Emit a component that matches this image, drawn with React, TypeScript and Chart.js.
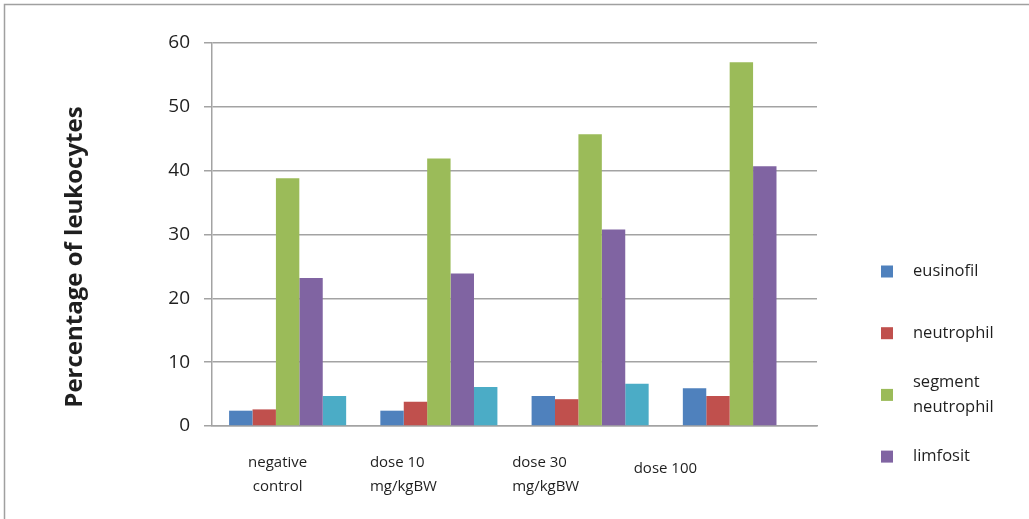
import React, { useEffect, useRef } from "react";
import { Chart, registerables } from "chart.js";

Chart.register(...registerables);

// Treatment groups (x categories), each split over lines as printed
const categories: string[][] = [
  ["negative", "control"],
  ["dose 10", "mg/kgBW"],
  ["dose 30", "mg/kgBW"],
  ["dose 100"],
];

// Leukocyte differential counts (%) per group
const eusinofil = [2.4, 2.4, 4.7, 5.9];
const neutrophil = [2.6, 3.8, 4.2, 4.7];
const segmentNeutrophil = [38.8, 41.9, 45.7, 57.0];
const limfosit = [23.2, 23.9, 30.8, 40.7];
const monosit = [4.7, 6.1, 6.6, null];

const yTicks = [0, 10, 20, 30, 40, 50, 60];
const yTitle = "Percentage of leukocytes";

const FONT = "'Open Sans', 'DejaVu Sans', sans-serif";
const TEXT = "#1f1f1f";
const GRID = "#a3a3a3";

const series = [
  { label: ["eusinofil"], data: eusinofil, color: "#4F81BD", inLegend: true },
  { label: ["neutrophil"], data: neutrophil, color: "#C0504D", inLegend: true },
  { label: ["segment", "neutrophil"], data: segmentNeutrophil, color: "#9BBB59", inLegend: true },
  { label: ["limfosit"], data: limfosit, color: "#8064A2", inLegend: true },
  { label: ["monosit"], data: monosit, color: "#4BACC6", inLegend: false },
];

// Placement of each category caption relative to its category centre
const captionStyle: { dx: number; align: CanvasTextAlign }[] = [
  { dx: -10, align: "center" },
  { dx: -69, align: "left" },
  { dx: -78, align: "left" },
  { dx: -76, align: "center" },
];

const decorations = {
  id: "decorations",
  afterDraw(chart: Chart) {
    const ctx = chart.ctx;
    ctx.save();

    // outer frame (top and left edges)
    ctx.strokeStyle = "#a0a0a0";
    ctx.lineWidth = 1.5;
    ctx.beginPath();
    ctx.moveTo(4.5, chart.height);
    ctx.lineTo(4.5, 4.5);
    ctx.lineTo(chart.width, 4.5);
    ctx.stroke();

    // y-axis title
    ctx.fillStyle = TEXT;
    ctx.font = `700 24px ${FONT}`;
    ctx.textAlign = "center";
    ctx.textBaseline = "middle";
    ctx.translate(75, 257);
    ctx.rotate(-Math.PI / 2);
    ctx.fillText(yTitle, 0, 0);
    ctx.setTransform(1, 0, 0, 1, 0, 0);

    // category captions
    const xScale = chart.scales.x;
    ctx.font = `15px ${FONT}`;
    const lineH = 24;
    categories.forEach((lines, i) => {
      const cx = xScale.getPixelForValue(i);
      const st = captionStyle[i];
      ctx.textAlign = st.align;
      const center = 469 + (lines.length - 1) * 6;
      const top = center - ((lines.length - 1) * lineH) / 2;
      lines.forEach((t, j) => ctx.fillText(t, cx + st.dx, top + j * lineH));
    });

    // legend
    ctx.textAlign = "left";
    ctx.font = `16.5px ${FONT}`;
    let y = 271.5;
    series
      .filter((s) => s.inLegend)
      .forEach((s) => {
        ctx.fillStyle = s.color;
        ctx.fillRect(881, y - 6, 12, 12);
        ctx.fillStyle = TEXT;
        const n = s.label.length;
        s.label.forEach((t, j) => ctx.fillText(t, 913, y + (j - (n - 1) / 2) * 24.5));
        y += 61.7;
      });

    ctx.restore();
  },
};

export default function App() {
  const ref = useRef<HTMLCanvasElement>(null);

  useEffect(() => {
    document.body.style.margin = "0";
    document.body.style.overflow = "hidden";
    const canvas = ref.current;
    if (!canvas) return;
    const chart = new Chart(canvas, {
      type: "bar",
      data: {
        labels: categories.map((c) => c.join(" ")),
        datasets: series.map((s) => ({
          label: s.label.join(" "),
          data: s.data as (number | null)[],
          backgroundColor: s.color,
          borderWidth: 0,
          categoryPercentage: 0.774,
          barPercentage: 1.0,
        })),
      },
      options: {
        responsive: false,
        animation: false,
        devicePixelRatio: 1,
        layout: { padding: { left: 0, right: 212, top: 43, bottom: 0 } },
        plugins: {
          legend: { display: false },
          tooltip: { enabled: false },
          title: { display: false },
        },
        scales: {
          x: {
            ticks: { display: false },
            grid: { display: false, drawTicks: false },
            border: { color: GRID, width: 1.5 },
            afterFit: (s: any) => {
              s.height = 93;
            },
          },
          y: {
            min: yTicks[0],
            max: yTicks[yTicks.length - 1],
            afterBuildTicks: (s: any) => {
              s.ticks = yTicks.map((v) => ({ value: v }));
            },
            ticks: {
              color: TEXT,
              font: { family: FONT, size: 19 },
              padding: 14,
            },
            grid: { color: GRID, lineWidth: 1.5, tickLength: 8 },
            border: { color: GRID, width: 1.5 },
            afterFit: (s: any) => {
              s.width = 212;
            },
          },
        },
      },
      plugins: [decorations],
    });
    return () => chart.destroy();
  }, []);

  return (
    <div style={{ width: 1029, height: 519, position: "relative", background: "#fff" }}>
      <canvas ref={ref} width={1029} height={519} style={{ display: "block" }} />
    </div>
  );
}
